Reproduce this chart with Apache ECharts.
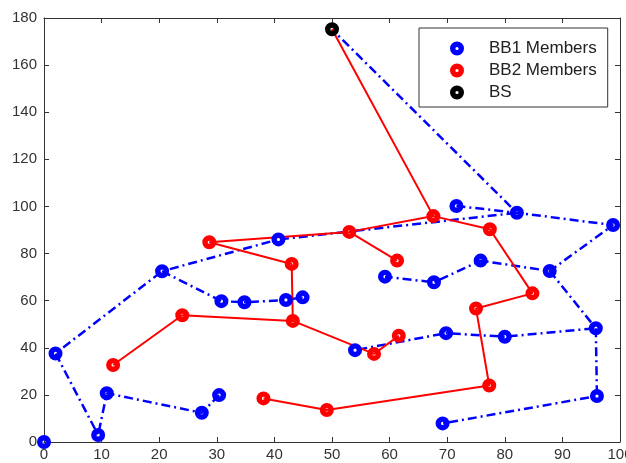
<!DOCTYPE html>
<html>
<head>
<meta charset="utf-8">
<script src="https://cdn.jsdelivr.net/npm/echarts@6/dist/echarts.min.js"></script>
<style>
  html, body { margin: 0; padding: 0; background: #fff; }
  #chart { width: 626px; height: 463px; }
</style>
</head>
<body>
<div id="chart"></div>
<script>
// base station
const bsNode = [50.0, 175.2];

// BB1 member positions
const bb1Nodes = [
    [0.0, 0.0], [2.0, 37.6], [9.4, 3.0], [10.9, 20.7], [27.4, 12.4],
    [30.4, 19.9], [20.5, 72.5], [30.8, 59.8], [34.8, 59.3], [42.0, 60.3],
    [44.9, 61.4], [40.7, 86.0], [71.6, 100.2], [82.1, 97.3], [98.8, 92.1],
    [87.8, 72.6], [75.8, 77.0], [67.7, 67.8], [59.2, 70.2], [95.8, 48.3],
    [80.0, 44.7], [69.8, 46.2], [54.0, 39.0], [96.0, 19.5], [69.2, 7.9]
];
// BB1 links, as chains of node indices ('bs' = base station)
const bb1Paths = [
    [5, 4, 3, 2, 1, 6, 11, 13, 'bs'],
    [12, 13, 14, 15, 16, 17, 18],
    [6, 7, 8, 9, 10],
    [15, 19, 20, 21, 22],
    [19, 23, 24]
];

// BB2 member positions
const bb2Nodes = [
    [12.0, 32.7], [24.0, 53.8], [43.2, 51.4], [43.0, 75.6], [28.7, 84.8],
    [53.0, 89.2], [67.6, 95.9], [61.3, 77.0], [57.3, 37.4], [61.6, 45.1],
    [77.4, 90.3], [84.8, 63.1], [75.0, 56.7], [77.3, 24.0], [49.1, 13.6],
    [38.1, 18.5]
];
const bb2Paths = [
    [0, 1, 2, 3, 4, 5, 6, 'bs'],
    [7, 5],
    [9, 8, 2],
    [6, 10, 11, 12, 13, 14, 15]
];

const xTicks = { min: 0, max: 100, step: 10 };
const yTicks = { min: 0, max: 180, step: 20 };

// ring marker (matlab 'o' with thick line)
const ring = 'path://M0,10A10,10 0 1,1 20,10A10,10 0 1,1 0,10ZM7.7,10A2.3,2.3 0 1,0 12.3,10A2.3,2.3 0 1,0 7.7,10Z';
const font = 'Liberation Sans, Arial, sans-serif';

function pathData(nodes, idx) {
    return idx.map(function (i) { return i === 'bs' ? bsNode : nodes[i]; });
}

const series = [];
bb1Paths.forEach(function (p) {
    series.push({
        type: 'line', name: 'bb1-link', data: pathData(bb1Nodes, p),
        symbol: 'none', silent: true, z: 2,
        lineStyle: { color: '#0000ff', width: 2.5, type: [9, 4, 2, 4] }
    });
});
bb2Paths.forEach(function (p) {
    series.push({
        type: 'line', name: 'bb2-link', data: pathData(bb2Nodes, p),
        symbol: 'none', silent: true, z: 2,
        lineStyle: { color: '#ff0000', width: 2 }
    });
});
series.push(
    { type: 'scatter', name: 'BB1 Members', data: bb1Nodes, symbol: ring, symbolSize: 14, itemStyle: { color: '#0000ff', opacity: 1 }, z: 3 },
    { type: 'scatter', name: 'BB2 Members', data: bb2Nodes, symbol: ring, symbolSize: 14, itemStyle: { color: '#ff0000', opacity: 1 }, z: 3 },
    { type: 'scatter', name: 'BS', data: [bsNode], symbol: ring, symbolSize: 14, itemStyle: { color: '#000000', opacity: 1 }, z: 3 }
);

function axis(pos, ticks, labels) {
    return {
        type: 'value', position: pos, min: ticks.min, max: ticks.max, interval: ticks.step,
        axisLine: { show: true, onZero: false, lineStyle: { color: '#333', width: 1 } },
        axisTick: { show: true, inside: true, length: 5, lineStyle: { color: '#333' } },
        splitLine: { show: false },
        axisLabel: {
            show: labels, color: '#333', fontSize: 15, fontFamily: font,
            margin: pos === 'bottom' ? 5 : 7
        }
    };
}

const chart = echarts.init(document.getElementById('chart'));
chart.setOption({
    animation: false,
    backgroundColor: '#fff',
    grid: { left: 44, right: 6, top: 18, bottom: 21, containLabel: false, outerBoundsMode: 'none' },
    xAxis: [axis('bottom', xTicks, true), axis('top', xTicks, false)],
    yAxis: [axis('left', yTicks, true), axis('right', yTicks, false)],
    legend: {
        data: ['BB1 Members', 'BB2 Members', 'BS'],
        orient: 'vertical', left: 419, top: 28,
        itemWidth: 54, itemHeight: 14, itemGap: 5,
        padding: [12, 11, 6, 31],
        borderColor: '#333', borderWidth: 1, backgroundColor: '#fff',
        textStyle: { color: '#222', fontSize: 17, fontFamily: font }
    },
    series: series
});
</script>
</body>
</html>
